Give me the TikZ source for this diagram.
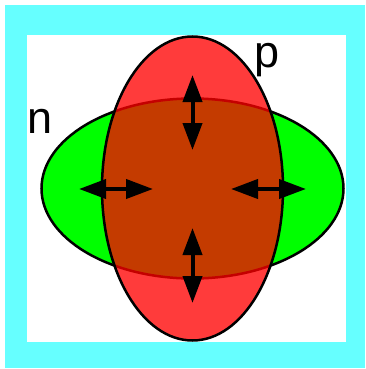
\documentclass[tikz,border=0pt]{standalone}
\usepackage{fontspec}
\setmainfont{Liberation Sans}
\usepackage{tikz}
\usetikzlibrary{arrows.meta, shapes.geometric}
\definecolor{framecyan}{RGB}{102,255,255}
\definecolor{ngreen}{RGB}{0,255,0}
\definecolor{pred}{RGB}{255,0,0}

\begin{document}
\begin{tikzpicture}[
        x=1pt, y=-1pt,
        every node/.style={font=\fontsize{45}{54}\selectfont},
        region/.style={ellipse, draw=black, line width=2.5pt, inner sep=0pt},
        arrow/.style={{Triangle[length=27pt,width=19pt]}-{Triangle[length=27pt,width=19pt]}, line width=4pt}
    ]
        \useasboundingbox (0,0) rectangle (365,369);

        % Frame
        \fill[framecyan] (5,5) rectangle (365,368);
        \fill[white] (27,35) rectangle (346,342);

        % Regions
        \node[region, fill=ngreen, minimum width=302pt, minimum height=180pt] (nregion) at (192.5,188.5) {};
        \node[region, fill=pred, fill opacity=0.77, minimum width=181pt, minimum height=304pt] (pregion) at (192.5,188.5) {};

        % Labels
        \node[anchor=base] (nlabel) at (40,133) {n};
        \node[anchor=base] (plabel) at (267,67) {p};

        % Arrow ends
        \coordinate (topa) at (192.5,75);
        \coordinate (topb) at (192.5,150);
        \coordinate (bota) at (192.5,228);
        \coordinate (botb) at (192.5,303);
        \coordinate (lefta) at (79,189);
        \coordinate (leftb) at (153,189);
        \coordinate (righta) at (231,189);
        \coordinate (rightb) at (306,189);

        % Arrows
        \draw[arrow] (topa) -- (topb);
        \draw[arrow] (bota) -- (botb);
        \draw[arrow] (lefta) -- (leftb);
        \draw[arrow] (righta) -- (rightb);
    \end{tikzpicture}
\end{document}
